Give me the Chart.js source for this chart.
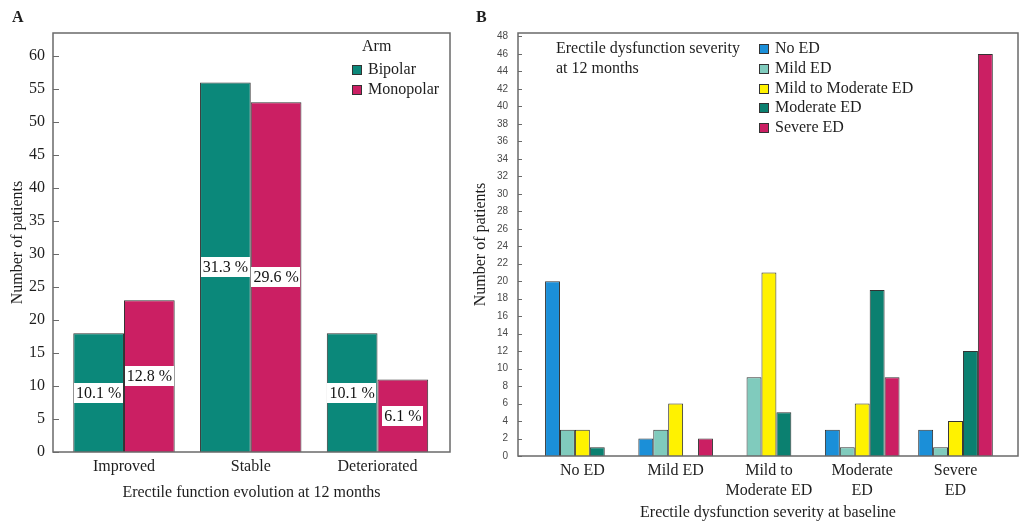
<!DOCTYPE html>
<html>
<head>
<meta charset="utf-8">
<script src="https://cdn.jsdelivr.net/npm/chart.js@4.4.1/dist/chart.umd.min.js"></script>
<style>
    html, body { margin: 0; padding: 0; background: #fff; }
    #wrap { position: relative; width: 1024px; height: 526px; overflow: hidden; }
    #chart-a { position: absolute; left: 0; top: 0; }
    #chart-b { position: absolute; left: 465px; top: 0; }
</style>
</head>
<body>
<div id="wrap">
    <canvas id="chart-a" width="465" height="526"></canvas>
    <canvas id="chart-b" width="559" height="526"></canvas>
</div>
<script>
// panel A - erectile function evolution per arm
const evolution_labels = ['Improved', 'Stable', 'Deteriorated'];
const bipolar_counts = [18, 56, 18];
const monopolar_counts = [23, 53, 11];
const bipolar_pcts = ['10.1 %', '31.3 %', '10.1 %'];
const monopolar_pcts = ['12.8 %', '29.6 %', '6.1 %'];
const a_ticks = [0, 5, 10, 15, 20, 25, 30, 35, 40, 45, 50, 55, 60];

// panel B - severity at 12 months per baseline severity
const baseline_labels = [['No ED'], ['Mild ED'], ['Mild to', 'Moderate ED'], ['Moderate', 'ED'], ['Severe', 'ED']];
const no_ed_counts = [20, 2, 0, 3, 3];
const mild_counts = [3, 3, 9, 1, 1];
const mild_moderate_counts = [3, 6, 21, 6, 4];
const moderate_counts = [1, 0, 5, 19, 12];
const severe_counts = [0, 2, 0, 9, 46];
const b_ticks = [0, 2, 4, 6, 8, 10, 12, 14, 16, 18, 20, 22, 24, 26, 28, 30, 32, 34, 36, 38, 40, 42, 44, 46, 48];

const SERIF = '"Liberation Serif", "DejaVu Serif", serif';
const TEXT_COLOR = '#1e1e1e';

function to_points(values) {
    return values.map((v, i) => ({x: i, y: v}));
}

// box around the plot area, with short inward ticks on the y axis
const frame_plugin = {
    id: 'frame',
    afterDatasetsDraw(chart, args, opts) {
        const ctx = chart.ctx;
        const a = chart.chartArea;
        const y = chart.scales.y;
        ctx.save();
        ctx.strokeStyle = '#6a6a6a';
        ctx.lineWidth = 1.5;
        ctx.strokeRect(a.left, a.top, a.right - a.left, a.bottom - a.top);
        ctx.lineWidth = 1;
        ctx.beginPath();
        y.ticks.forEach((t) => {
            let py = Math.round(y.getPixelForValue(t.value)) + 0.5;
            ctx.moveTo(a.left, py);
            ctx.lineTo(a.left + opts.tick, py);
        });
        ctx.stroke();
        ctx.restore();
    }
};

// panel letter + legend drawn inside the plot
const box_legend_plugin = {
    id: 'boxLegend',
    afterDraw(chart, args, opts) {
        const ctx = chart.ctx;
        ctx.save();
        ctx.textBaseline = 'middle';
        ctx.textAlign = 'left';
        ctx.fillStyle = TEXT_COLOR;
        ctx.font = 'bold 16px ' + SERIF;
        ctx.fillText(opts.tag, opts.tagX, opts.tagY);

        ctx.font = '16px ' + SERIF;
        opts.title.forEach((line, i) => {
            ctx.fillText(line, opts.titleX, opts.titleY + i * opts.gap);
        });
        chart.data.datasets.forEach((ds, i) => {
            let cy = Math.round(opts.y + i * opts.gap);
            ctx.fillStyle = ds.backgroundColor;
            ctx.fillRect(opts.x, cy - 5, 10, 10);
            ctx.strokeStyle = '#333';
            ctx.lineWidth = 1;
            ctx.strokeRect(opts.x + 0.5, cy - 4.5, 9, 9);
            ctx.fillStyle = TEXT_COLOR;
            ctx.fillText(ds.label, opts.x + 16, cy);
        });
        ctx.restore();
    }
};

// percentage labels in white boxes at the middle of each bar
const pct_label_plugin = {
    id: 'pctLabels',
    afterDatasetsDraw(chart) {
        const ctx = chart.ctx;
        ctx.save();
        ctx.font = '16px ' + SERIF;
        ctx.textAlign = 'center';
        ctx.textBaseline = 'middle';
        chart.data.datasets.forEach((ds, di) => {
            if (!ds.pct) {
                return;
            }
            chart.getDatasetMeta(di).data.forEach((bar, i) => {
                const {x, y, base} = bar.getProps(['x', 'y', 'base'], true);
                let cy = Math.round((y + base) / 2);
                let w = ctx.measureText(ds.pct[i]).width + 4;
                ctx.fillStyle = '#fff';
                ctx.fillRect(Math.round(x - w / 2), cy - 10, Math.round(w), 20);
                ctx.fillStyle = '#111';
                ctx.fillText(ds.pct[i], x, cy + 1);
            });
        });
        ctx.restore();
    }
};

function bar_dataset(label, values, color, extra) {
    return Object.assign({
        label: label,
        data: to_points(values),
        backgroundColor: color,
        borderColor: '#333',
        borderWidth: (c) => (c.raw && c.raw.y ? 1 : 0),
        categoryPercentage: 0.8,
        barPercentage: 1.0
    }, extra || {});
}

new Chart(document.getElementById('chart-a'), {
    type: 'bar',
    data: {
        datasets: [
            bar_dataset('Bipolar', bipolar_counts, '#0b887a', {pct: bipolar_pcts}),
            bar_dataset('Monopolar', monopolar_counts, '#cb1f63', {pct: monopolar_pcts})
        ]
    },
    options: {
        responsive: false,
        animation: false,
        events: [],
        layout: {padding: {top: 33, right: 15, bottom: 0, left: 0}},
        scales: {
            x: {
                type: 'linear',
                offset: false,
                min: -0.56,
                max: 2.572,
                afterBuildTicks: (scale) => {
                    scale.ticks = evolution_labels.map((_, i) => ({value: i}));
                },
                afterFit: (scale) => { scale.height = 74; },
                grid: {display: false, drawTicks: false, offset: false},
                border: {display: false},
                ticks: {
                    autoSkip: false,
                    maxRotation: 0,
                    padding: 5,
                    color: TEXT_COLOR,
                    font: {family: SERIF, size: 16},
                    callback: (v) => evolution_labels[v]
                },
                title: {
                    display: true,
                    text: 'Erectile function evolution at 12 months',
                    color: TEXT_COLOR,
                    font: {family: SERIF, size: 16},
                    padding: {top: 0, bottom: 24}
                }
            },
            y: {
                min: 0,
                max: 63.5,
                afterBuildTicks: (scale) => {
                    scale.ticks = a_ticks.map((v) => ({value: v}));
                },
                afterFit: (scale) => { scale.width = 53; },
                grid: {display: false, drawTicks: false},
                border: {display: false},
                ticks: {
                    padding: 8,
                    color: TEXT_COLOR,
                    font: {family: SERIF, size: 16}
                },
                title: {
                    display: true,
                    text: 'Number of patients',
                    color: TEXT_COLOR,
                    font: {family: SERIF, size: 16},
                    padding: {top: 8, bottom: 0}
                }
            }
        },
        plugins: {
            legend: {display: false},
            tooltip: {enabled: false},
            frame: {tick: 6},
            boxLegend: {
                tag: 'A', tagX: 12, tagY: 18,
                title: ['Arm'], titleX: 362, titleY: 47,
                x: 352, y: 70, gap: 20
            }
        }
    },
    plugins: [frame_plugin, pct_label_plugin, box_legend_plugin]
});

new Chart(document.getElementById('chart-b'), {
    type: 'bar',
    data: {
        datasets: [
            bar_dataset('No ED', no_ed_counts, '#1b8fd8'),
            bar_dataset('Mild ED', mild_counts, '#80cbbd'),
            bar_dataset('Mild to Moderate ED', mild_moderate_counts, '#fff200'),
            bar_dataset('Moderate ED', moderate_counts, '#0b8070'),
            bar_dataset('Severe ED', severe_counts, '#cb1f63')
        ]
    },
    options: {
        responsive: false,
        animation: false,
        events: [],
        layout: {padding: {top: 33, right: 6, bottom: 0, left: 0}},
        scales: {
            x: {
                type: 'linear',
                offset: false,
                min: -0.69,
                max: 4.67,
                afterBuildTicks: (scale) => {
                    scale.ticks = baseline_labels.map((_, i) => ({value: i}));
                },
                afterFit: (scale) => { scale.height = 70; },
                grid: {display: false, drawTicks: false, offset: false},
                border: {display: false},
                ticks: {
                    autoSkip: false,
                    maxRotation: 0,
                    padding: 5,
                    color: TEXT_COLOR,
                    font: {family: SERIF, size: 16, lineHeight: 1.25},
                    callback: (v) => baseline_labels[v]
                },
                title: {
                    display: true,
                    text: 'Erectile dysfunction severity at baseline',
                    color: TEXT_COLOR,
                    font: {family: SERIF, size: 16},
                    padding: {top: 0, bottom: 4}
                }
            },
            y: {
                min: 0,
                max: 48.4,
                ticks: {
                    padding: 10,
                    color: '#4a4a4a',
                    font: {family: '"Liberation Sans", sans-serif', size: 10}
                },
                afterBuildTicks: (scale) => {
                    scale.ticks = b_ticks.map((v) => ({value: v}));
                },
                afterFit: (scale) => { scale.width = 53; },
                grid: {display: false, drawTicks: false},
                border: {display: false},
                title: {
                    display: true,
                    text: 'Number of patients',
                    color: TEXT_COLOR,
                    font: {family: SERIF, size: 16},
                    padding: {top: 6, bottom: 0}
                }
            }
        },
        plugins: {
            legend: {display: false},
            tooltip: {enabled: false},
            frame: {tick: 4},
            boxLegend: {
                tag: 'B', tagX: 11, tagY: 18,
                title: ['Erectile dysfunction severity', 'at 12 months'], titleX: 91, titleY: 49,
                x: 294, y: 49, gap: 19.75
            }
        }
    },
    plugins: [frame_plugin, box_legend_plugin]
});
</script>
</body>
</html>
